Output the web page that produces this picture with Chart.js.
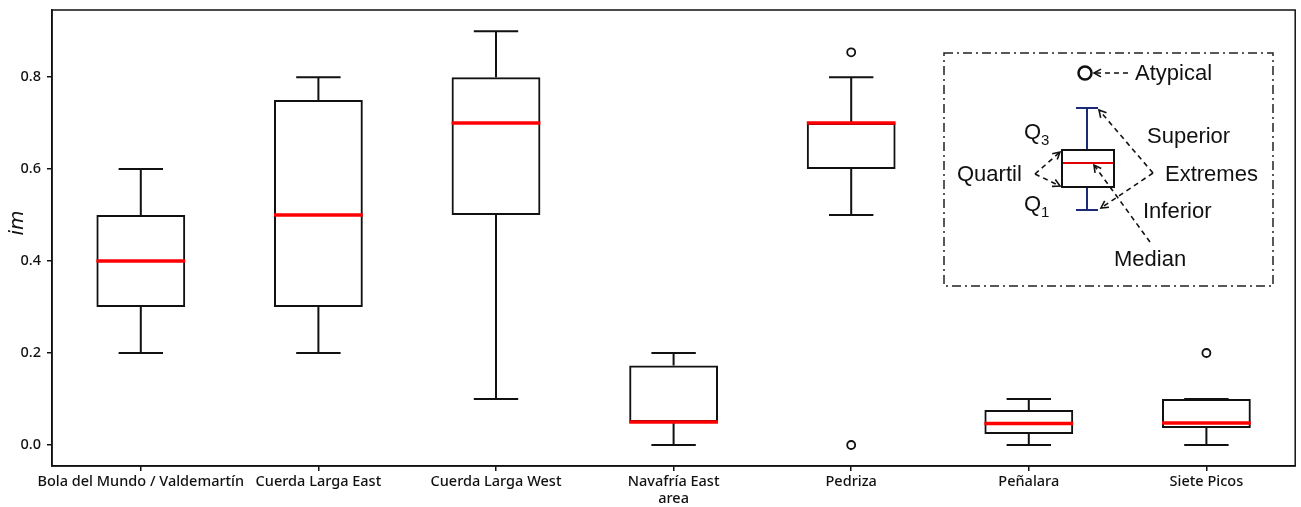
<!DOCTYPE html>
<html>
<head>
<meta charset="utf-8">
<script src="https://cdn.jsdelivr.net/npm/chart.js@4.4.1/dist/chart.umd.min.js"></script>
<style>
    html, body { margin: 0; padding: 0; background: #fff; }
    #wrap { width: 1301px; height: 507px; }
</style>
</head>
<body>
<div id="wrap"><canvas id="boxChart" width="1301" height="507"></canvas></div>
<script>
// Box plot values
const categories = ['Bola del Mundo / Valdemartín', 'Cuerda Larga East', 'Cuerda Larga West', ['Navafría East', 'area'], 'Pedriza', 'Peñalara', 'Siete Picos'];
const whiskerLow = [0.2, 0.2, 0.1, 0.0, 0.5, 0.0, 0.0];
const quartile1 = [0.3, 0.3, 0.5, 0.05, 0.6, 0.024, 0.037];
const medians = [0.4, 0.5, 0.7, 0.05, 0.7, 0.047, 0.048];
const quartile3 = [0.5, 0.75, 0.8, 0.173, 0.7, 0.076, 0.1];
const whiskerHigh = [0.6, 0.8, 0.9, 0.2, 0.8, 0.1, 0.1];
const outlierCategory = ['Pedriza', 'Pedriza', 'Siete Picos'];
const outlierValues = [0.854, 0.0, 0.2];
const yTicks = [0.0, 0.2, 0.4, 0.6, 0.8];

const TICK_FONT = { family: 'Noto Sans', size: 14.5, weight: '500' };
const NOTE_FONT = '22px "Liberation Sans", Arial, sans-serif';

/**
 * Draws whiskers, caps and red medians on top of the floating bars
 */
const boxPlotPlugin = {
    id: 'boxPlot',
    afterDatasetsDraw(chart) {
        const ctx = chart.ctx;
        const x = chart.scales.x;
        const y = chart.scales.y;
        const bars = chart.getDatasetMeta(0).data;

        ctx.save();
        categories.forEach((cat, i) => {
            const cx = x.getPixelForValue(i);
            const half = bars[i].width / 2;
            const cap = half / 2;

            ctx.strokeStyle = '#111';
            ctx.lineWidth = 2;
            ctx.beginPath();
            // lower whisker and cap
            ctx.moveTo(cx, y.getPixelForValue(quartile1[i]));
            ctx.lineTo(cx, y.getPixelForValue(whiskerLow[i]));
            ctx.moveTo(cx - cap, y.getPixelForValue(whiskerLow[i]));
            ctx.lineTo(cx + cap, y.getPixelForValue(whiskerLow[i]));
            // upper whisker and cap
            ctx.moveTo(cx, y.getPixelForValue(quartile3[i]));
            ctx.lineTo(cx, y.getPixelForValue(whiskerHigh[i]));
            ctx.moveTo(cx - cap, y.getPixelForValue(whiskerHigh[i]));
            ctx.lineTo(cx + cap, y.getPixelForValue(whiskerHigh[i]));
            ctx.stroke();

            // median
            ctx.strokeStyle = '#ff0000';
            ctx.lineWidth = 3.5;
            ctx.beginPath();
            ctx.moveTo(cx - half, y.getPixelForValue(medians[i]));
            ctx.lineTo(cx + half, y.getPixelForValue(medians[i]));
            ctx.stroke();
        });
        ctx.restore();
    },
    afterDraw(chart) {
        const ctx = chart.ctx;
        const area = chart.chartArea;

        // frame around the axes
        ctx.save();
        ctx.strokeStyle = '#111';
        ctx.lineWidth = 1.5;
        ctx.strokeRect(area.left, area.top, area.right - area.left, area.bottom - area.top);

        // y axis title
        ctx.translate(18, 223);
        ctx.rotate(-Math.PI / 2);
        ctx.fillStyle = '#111';
        ctx.font = 'italic 20px "DejaVu Sans", sans-serif';
        ctx.textAlign = 'center';
        ctx.textBaseline = 'middle';
        ctx.fillText('im', 0, 0);
        ctx.restore();

        drawExplanation(ctx);
    }
};

/**
 * Dashed line with an open arrow head at the end point
 */
function dashedArrow(ctx, x1, y1, x2, y2) {
    ctx.save();
    ctx.strokeStyle = '#111';
    ctx.lineWidth = 1.6;
    ctx.setLineDash([5, 4]);
    ctx.beginPath();
    ctx.moveTo(x1, y1);
    ctx.lineTo(x2, y2);
    ctx.stroke();

    const angle = Math.atan2(y2 - y1, x2 - x1);
    const len = 8;
    ctx.setLineDash([]);
    ctx.beginPath();
    ctx.moveTo(x2 - len * Math.cos(angle - 0.5), y2 - len * Math.sin(angle - 0.5));
    ctx.lineTo(x2, y2);
    ctx.lineTo(x2 - len * Math.cos(angle + 0.5), y2 - len * Math.sin(angle + 0.5));
    ctx.stroke();
    ctx.restore();
}

/**
 * The inset that explains how to read a box
 */
function drawExplanation(ctx) {
    ctx.save();

    // dash-dot frame
    ctx.strokeStyle = '#222';
    ctx.lineWidth = 1.5;
    ctx.setLineDash([9, 4, 2, 4]);
    ctx.strokeRect(944, 53, 329, 233);
    ctx.setLineDash([]);

    // sample box
    ctx.strokeStyle = '#1c2a7a';
    ctx.lineWidth = 2;
    ctx.beginPath();
    ctx.moveTo(1087, 108); ctx.lineTo(1087, 150);
    ctx.moveTo(1076, 108); ctx.lineTo(1098, 108);
    ctx.moveTo(1087, 187); ctx.lineTo(1087, 210);
    ctx.moveTo(1076, 210); ctx.lineTo(1098, 210);
    ctx.stroke();

    ctx.strokeStyle = '#111';
    ctx.strokeRect(1062, 150, 52, 37);

    ctx.strokeStyle = '#e00000';
    ctx.beginPath();
    ctx.moveTo(1063, 163); ctx.lineTo(1113, 163);
    ctx.stroke();

    // atypical marker
    ctx.strokeStyle = '#111';
    ctx.lineWidth = 2.5;
    ctx.beginPath();
    ctx.arc(1085, 73, 6.5, 0, Math.PI * 2);
    ctx.stroke();

    // arrows
    dashedArrow(ctx, 1128, 73, 1094, 73);
    dashedArrow(ctx, 1035, 174, 1060, 152);
    dashedArrow(ctx, 1035, 174, 1060, 186);
    dashedArrow(ctx, 1153, 173, 1099, 110);
    dashedArrow(ctx, 1153, 173, 1101, 208);
    dashedArrow(ctx, 1150, 242, 1094, 165);

    // labels
    ctx.fillStyle = '#111';
    ctx.font = NOTE_FONT;
    ctx.textAlign = 'left';
    ctx.textBaseline = 'middle';
    ctx.fillText('Atypical', 1135, 74);
    ctx.fillText('Superior', 1147, 137);
    ctx.fillText('Quartil', 957, 175);
    ctx.fillText('Extremes', 1165, 175);
    ctx.fillText('Inferior', 1143, 212);
    ctx.fillText('Median', 1114, 260);
    ctx.fillText('Q', 1024, 133);
    ctx.fillText('Q', 1024, 205);
    ctx.font = '15px "Liberation Sans", Arial, sans-serif';
    ctx.fillText('3', 1041, 141);
    ctx.fillText('1', 1041, 213);

    ctx.restore();
}

document.addEventListener('DOMContentLoaded', function() {
    const ctx = document.getElementById('boxChart');

    new Chart(ctx, {
        data: {
            labels: categories,
            datasets: [{
                type: 'bar',
                data: quartile1.map((q, i) => [q, quartile3[i]]),
                backgroundColor: 'rgba(255,255,255,0)',
                borderColor: '#111',
                borderWidth: 2,
                borderSkipped: false,
                barPercentage: 0.5,
                categoryPercentage: 1.0
            }, {
                type: 'line',
                data: outlierValues.map((v, i) => ({ x: outlierCategory[i], y: v })),
                showLine: false,
                pointRadius: 4,
                pointBackgroundColor: '#fff',
                pointBorderColor: '#111',
                pointBorderWidth: 1.8
            }]
        },
        options: {
            responsive: false,
            animation: false,
            devicePixelRatio: 1,
            layout: { padding: { top: 10, right: 3, left: 0, bottom: 0 } },
            plugins: {
                legend: { display: false },
                tooltip: { enabled: false }
            },
            scales: {
                x: {
                    type: 'category',
                    offset: true,
                    afterFit: function(scale) {
                        scale.height = 41;
                        scale.paddingLeft = 0;
                        scale.paddingRight = 0;
                    },
                    grid: { drawOnChartArea: false, drawTicks: true, tickLength: 5, color: '#111', lineWidth: 1.5, offset: false },
                    border: { display: true, color: '#111', width: 1.5 },
                    ticks: { color: '#111', font: TICK_FONT, padding: 2, autoSkip: false, maxRotation: 0 }
                },
                y: {
                    type: 'linear',
                    min: -0.0457,
                    max: 0.946,
                    afterFit: function(scale) {
                        scale.width = 52;
                        scale.paddingTop = 0;
                        scale.paddingBottom = 0;
                    },
                    afterBuildTicks: function(scale) {
                        scale.ticks = yTicks.map(v => ({ value: v }));
                    },
                    grid: { drawOnChartArea: false, drawTicks: true, tickLength: 5, color: '#111', lineWidth: 1.5 },
                    border: { display: true, color: '#111', width: 1.5 },
                    ticks: {
                        color: '#111',
                        font: TICK_FONT,
                        padding: 6,
                        callback: function(value) { return value.toFixed(1); }
                    }
                }
            }
        },
        plugins: [boxPlotPlugin]
    });
});
</script>
</body>
</html>
